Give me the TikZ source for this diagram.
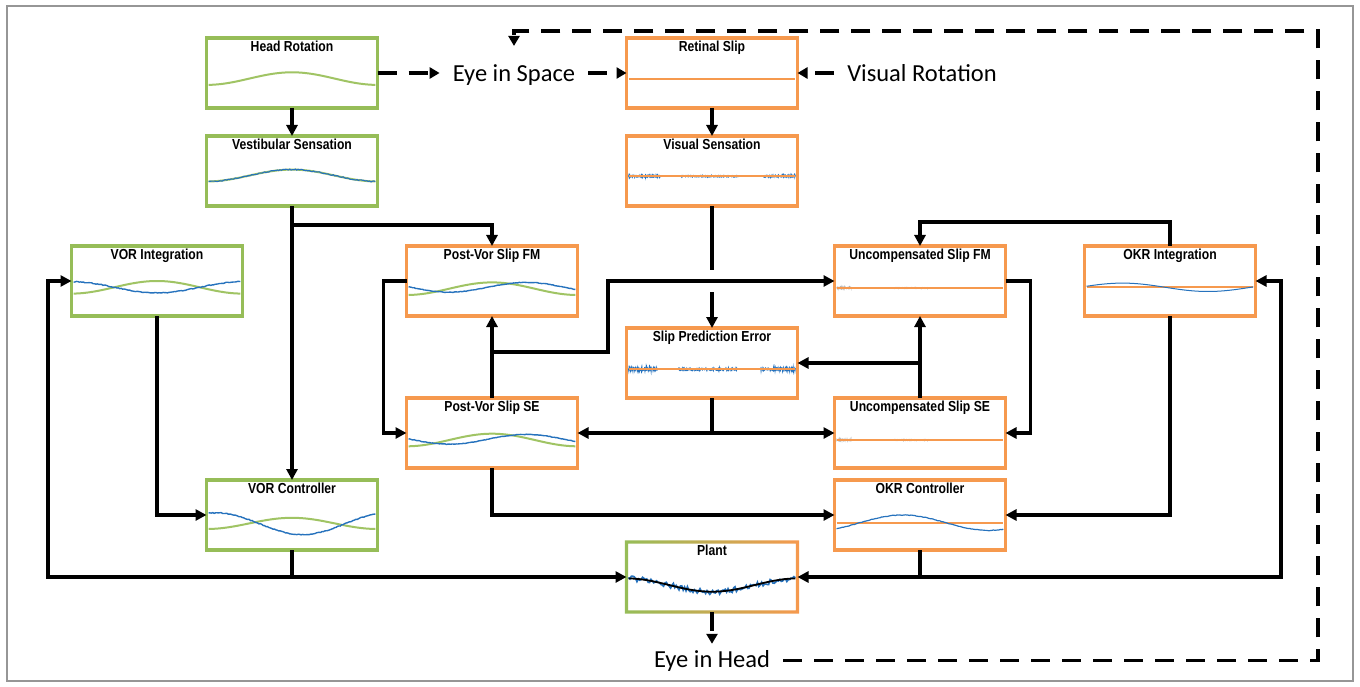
\documentclass[tikz,border=0pt]{standalone}
\usepackage{fontspec}
\setmainfont{Carlito}
\newfontfamily\titlefont[FakeStretch=0.84]{Liberation Sans}
\usetikzlibrary{
  positioning,
  arrows.meta,
  calc
}
\definecolor{boxgreen}{RGB}{150,189,88}
\definecolor{boxorange}{RGB}{246,153,78}
\definecolor{tracegreen}{RGB}{160,196,100}
\definecolor{traceblue}{RGB}{38,114,189}
\definecolor{frameline}{RGB}{150,150,150}

% one recorded signal inside a panel, t runs 0..1 across, y is a fraction of the height
\newcommand{\trace}[4][0.012:0.988]{%
  \begin{scope}[shift={(#2.north west)},x=171pt,y=-70pt]
    \draw[#3] plot[domain=#1,samples=120,variable=\t] (\t,{#4});
  \end{scope}}

\begin{document}
\begin{tikzpicture}[
  x=1pt, y=-1pt,
  panel/.style={
    rectangle,
    draw,
    line width=3.2pt,
    fill=white,
    minimum width=171pt,
    minimum height=70pt,
    inner sep=0pt,
    outer sep=0pt
  },
  vestpanel/.style={panel, draw=boxgreen},
  vispanel/.style={panel, draw=boxorange},
  paneltitle/.style={
    anchor=north,
    inner sep=2.5pt,
    font=\titlefont\bfseries\fontsize{14.5}{16}\selectfont
  },
  signal/.style={
    anchor=base,
    inner xsep=13pt,
    inner ysep=6pt,
    font=\fontsize{24.5}{29}\selectfont
  },
  link/.style={
    -{Triangle[length=11pt,width=11pt]},
    line width=3.6pt
  },
  wire/.style={line width=3.6pt},
  dlink/.style={
    -{Triangle[length=10pt,width=11pt]},
    line width=3.4pt,
    dash pattern=on 19pt off 12pt
  },
  greentrace/.style={tracegreen, line width=2pt},
  bluetrace/.style={traceblue, line width=1.4pt},
  noisetrace/.style={traceblue, line width=1.1pt},
  flattrace/.style={boxorange, line width=2pt}
]
\pgfmathsetseed{11}
\useasboundingbox (0,0) rectangle (1360,687);
\draw[frameline, line width=1.3pt] (7,6) rectangle (1353,681);

% ------------------------------------------------------------------
% Column / row anchors
% ------------------------------------------------------------------
\coordinate (colA) at (157,0);
\coordinate (colB) at (292,0);
\coordinate (colC) at (492,0);
\coordinate (colD) at (712,0);
\coordinate (colE) at (920,0);
\coordinate (colF) at (1170,0);
\coordinate (row1) at (0,73);
\coordinate (row2) at (0,171);
\coordinate (row3) at (0,281);
\coordinate (row4) at (0,363);
\coordinate (row5) at (0,433);
\coordinate (row6) at (0,515);
\coordinate (row7) at (0,577);

% ------------------------------------------------------------------
% Vestibular side (green)
% ------------------------------------------------------------------
\node[vestpanel, label={[paneltitle]north:Head Rotation}] (hr) at (colB |- row1) {};
\node[vestpanel, label={[paneltitle]north:Vestibular Sensation}] (vs) at (colB |- row2) {};
\node[vestpanel, label={[paneltitle]north:VOR Integration}] (vi) at (colA |- row3) {};
\node[vestpanel, label={[paneltitle]north:VOR Controller}] (vc) at (colB |- row6) {};

% ------------------------------------------------------------------
% Visual side (orange)
% ------------------------------------------------------------------
\node[vispanel, label={[paneltitle]north:Retinal Slip}] (rs) at (colD |- row1) {};
\node[vispanel, label={[paneltitle]north:Visual Sensation}] (vis) at (colD |- row2) {};
\node[vispanel, label={[paneltitle]north:Post-Vor Slip FM}] (pvfm) at (colC |- row3) {};
\node[vispanel, label={[paneltitle]north:Post-Vor Slip SE}] (pvse) at (colC |- row5) {};
\node[vispanel, label={[paneltitle]north:Slip Prediction Error}] (spe) at (colD |- row4) {};
\node[vispanel, label={[paneltitle]north:Uncompensated Slip FM}] (ucfm) at (colE |- row3) {};
\node[vispanel, label={[paneltitle]north:Uncompensated Slip SE}] (ucse) at (colE |- row5) {};
\node[vispanel, label={[paneltitle]north:OKR Integration}] (oi) at (colF |- row3) {};
\node[vispanel, label={[paneltitle]north:OKR Controller}] (oc) at (colE |- row6) {};

% Plant: border fades green -> orange
\node[panel, draw=none, label={[paneltitle]north:Plant}] (pl) at (colD |- row7) {};
\shade[left color=boxgreen, right color=boxorange, even odd rule]
  ($(pl.north west)+(-1.6,-1.6)$) rectangle ($(pl.south east)+(1.6,1.6)$)
  ($(pl.north west)+(1.6,1.6)$) rectangle ($(pl.south east)+(-1.6,-1.6)$);

% ------------------------------------------------------------------
% Signal traces
% ------------------------------------------------------------------
\trace{hr}{greentrace}{0.67-0.18*(1-cos(360*\t))/2}
\trace{vs}{greentrace}{0.65-0.17*(1-cos(360*\t))/2}
\trace{vs}{noisetrace}{0.65-0.17*(1-cos(360*\t))/2+0.008*rand}
\trace{vi}{greentrace}{0.68-0.18*(1-cos(360*\t))/2}
\trace{vi}{bluetrace}{0.51+0.16*(1-cos(360*\t))/2+0.006*rand}
\trace{vc}{greentrace}{0.70-0.16*(1-cos(360*\t))/2}
\trace{vc}{bluetrace}{0.47+0.31*(1-cos(360*(\t-0.06)))/2+0.006*rand}
\trace{pvfm}{greentrace}{0.70-0.18*(1-cos(360*\t))/2}
\trace{pvfm}{bluetrace}{0.59+0.07*sin(400*\t-10)+0.004*rand}
\trace{pvse}{greentrace}{0.69-0.18*(1-cos(360*\t))/2}
\trace{pvse}{bluetrace}{0.59+0.07*sin(400*\t-10)+0.004*rand}

\trace{rs}{flattrace}{0.59}
\trace[0.012:0.2]{vis}{noisetrace}{0.575+0.012*rand}
\trace[0.32:0.66]{vis}{noisetrace}{0.575+0.012*rand}
\trace[0.8:0.988]{vis}{noisetrace}{0.575+0.012*rand}
\trace{vis}{flattrace}{0.575}
\trace[0.012:0.18]{spe}{noisetrace}{0.59+0.02*rand}
\trace[0.3:0.65]{spe}{noisetrace}{0.59+0.02*rand}
\trace[0.78:0.988]{spe}{noisetrace}{0.59+0.02*rand}
\trace{spe}{flattrace}{0.59}
\trace[0.012:0.1]{ucfm}{gray!60, line width=0.6pt}{0.6+0.01*rand}
\trace[0.35:0.55]{ucfm}{gray!60, line width=0.6pt}{0.6+0.01*rand}
\trace{ucfm}{flattrace}{0.6}
\trace[0.012:0.1]{ucse}{gray!60, line width=0.6pt}{0.6+0.01*rand}
\trace[0.35:0.55]{ucse}{gray!60, line width=0.6pt}{0.6+0.01*rand}
\trace{ucse}{flattrace}{0.6}
\trace{oi}{flattrace}{0.59}
\trace{oi}{traceblue, line width=1pt}{0.59-0.06*sin(360*\t+10)}
\trace{oc}{flattrace}{0.62}
\trace{oc}{traceblue, line width=1.2pt}{0.61-0.11*sin(360*\t-54)+0.004*rand}

\trace{pl}{traceblue, line width=1.6pt}{0.52+0.19*(1-cos(360*\t))/2+0.04*rand}
\trace{pl}{black, line width=1.8pt}{0.52+0.19*(1-cos(360*\t))/2}

% ------------------------------------------------------------------
% Free labels
% ------------------------------------------------------------------
\node[signal] (eis) at (514,82) {Eye in Space};
\node[signal] (vr) at (922,82) {Visual Rotation};
\node[signal] (eih) at (712,667) {Eye in Head};

% ------------------------------------------------------------------
% Vestibular wiring
% ------------------------------------------------------------------
\draw[link] (hr) -- (vs);
\draw[link] (vs) -- (vc);
\coordinate (vsfork) at ($(vs.south)+(0,19)$);
\draw[link] (vsfork) -| (pvfm.north);
\draw[link] (vi.south) |- (vc.west);
\draw[link] (vc.south) |- (pl.west);
\coordinate (leftbus) at (48,0);
\draw[link] (vc.south |- pl.west) -- (leftbus |- pl.west) |- (vi.west);

% ------------------------------------------------------------------
% Visual wiring
% ------------------------------------------------------------------
\draw[link] (rs) -- (vis);
\coordinate (hopabove) at ($(vis.south |- ucfm.west)+(0,-11)$);
\coordinate (hopbelow) at ($(vis.south |- ucfm.west)+(0,11)$);
\draw[wire] (vis.south) -- (hopabove);
\draw[link] (hopbelow) -- (spe.north);

\coordinate (pvloop) at ($(pvfm.west)+(-23,0)$);
\draw[link] (pvfm.west) -- (pvloop) |- (pvse.west);
\draw[link] (pvse) -- (pvfm);
\coordinate (pvfork) at ($(pvse.north)+(0,-46)$);
\coordinate (pvbend) at (608,0);
\draw[link] (pvfork) -- (pvbend |- pvfork) |- (ucfm.west);

\draw[link] (ucse) -- (ucfm);
\draw[link] (ucse.north |- spe.east) -- (spe.east);
\coordinate (ucloop) at ($(ucfm.east)+(25,0)$);
\draw[link] (ucfm.east) -- (ucloop) |- (ucse.east);

\coordinate (spefork) at (spe.south |- pvse.east);
\draw[wire] (spe.south) -- (spefork);
\draw[link] (spefork) -- (pvse.east);
\draw[link] (spefork) -- (ucse.west);
\draw[link] (pvse.south) |- (oc.west);

% ------------------------------------------------------------------
% Optokinetic wiring
% ------------------------------------------------------------------
\coordinate (okrtop) at ($(oi.north)+(0,-24)$);
\draw[link] (oi.north) -- (okrtop) -| (ucfm.north);
\draw[link] (oi.south) |- (oc.east);
\draw[link] (oc.south) |- (pl.east);
\coordinate (rightbus) at (1281,0);
\draw[link] (oc.south |- pl.east) -- (rightbus |- pl.east) |- (oi.east);

% ------------------------------------------------------------------
% Physical (dashed) loop
% ------------------------------------------------------------------
\draw[dlink] (hr.east) -- (hr.east -| eis.west);
\draw[dlink] (eis.east |- rs.west) -- (rs.west);
\draw[dlink] (vr.west |- rs.east) -- (rs.east);
\draw[dlink] (pl.south) -- (eih.north);
\coordinate (loopcorner) at (1318,31);
\draw[dlink, shorten >=13pt] (eih.east) -| (loopcorner) -| (eis.north);

\end{tikzpicture}
\end{document}
